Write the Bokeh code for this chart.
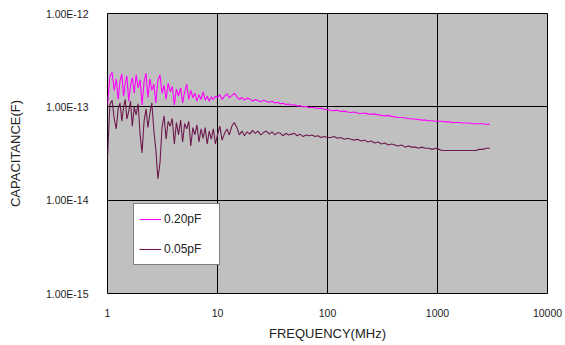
from bokeh.plotting import figure
from bokeh.models import FixedTicker, Legend, LegendItem
from bokeh.embed import file_html
from bokeh.resources import INLINE

freq_low = [1.0, 1.05, 1.1, 1.15, 1.2, 1.25, 1.3, 1.35, 1.4, 1.45, 1.5, 1.56, 1.62, 1.68,
            1.75, 1.82, 1.9, 1.98, 2.06, 2.15, 2.24, 2.33, 2.43, 2.53, 2.64, 2.75, 2.87, 3.0,
            3.13, 3.27, 3.41, 3.56, 3.72, 3.88, 4.05, 4.23, 4.42, 4.62, 4.82, 5.03, 5.25, 5.48,
            5.72, 5.97, 6.23, 6.5, 6.79, 7.09, 7.4, 7.72, 8.06, 8.41, 8.78, 9.17, 9.57, 10.0]
freq_mid = [10.5, 11, 11.6, 12.2, 12.8, 13.5, 14.2, 15, 15.8, 16.7, 17.6, 18.6, 19.7, 20.8,
            22, 23.3, 24.7, 26.2, 27.8, 29.5, 31.3, 33.2, 35.2, 37.3, 39.5, 41.8, 44.3, 47,
            50, 53, 56, 60, 64, 68, 72, 77, 82, 87, 93, 100]
freq_high = [107, 115, 123, 132, 142, 152, 163, 175, 188, 202, 217, 233, 250, 268, 288, 309,
             332, 356, 382, 410, 440, 472, 507, 544, 584, 627, 673, 722, 775, 832, 893, 958,
             1028, 1103, 1184, 1271, 1364, 1464, 1571, 1686, 1810, 1942, 2084, 2237, 2400,
             2576, 2765, 3000]

# capacitance in pF
cap020_low = [0.105, 0.21, 0.235, 0.15, 0.20, 0.12, 0.19, 0.225, 0.13, 0.18, 0.215, 0.115, 0.17,
              0.205, 0.14, 0.22, 0.16, 0.195, 0.105, 0.185, 0.23, 0.125, 0.20, 0.15, 0.175, 0.11,
              0.19, 0.22, 0.14, 0.17, 0.12, 0.18, 0.145, 0.165, 0.105, 0.155, 0.13, 0.16, 0.11,
              0.145, 0.175, 0.12, 0.15, 0.125, 0.14, 0.115, 0.135, 0.12, 0.145, 0.118, 0.13,
              0.115, 0.128, 0.12, 0.13, 0.125]
cap020_mid = [0.135, 0.12, 0.13, 0.138, 0.125, 0.132, 0.14, 0.128, 0.12, 0.126, 0.118, 0.124,
              0.121, 0.115, 0.12, 0.117, 0.113, 0.118, 0.114, 0.112, 0.115, 0.11, 0.112, 0.108,
              0.109, 0.106, 0.107, 0.104, 0.105, 0.102, 0.103, 0.1, 0.101, 0.098, 0.099, 0.097,
              0.096, 0.097, 0.094, 0.093]
cap020_high = [0.092, 0.091, 0.092, 0.089, 0.09, 0.088, 0.087, 0.088, 0.086, 0.085, 0.086, 0.084,
               0.083, 0.084, 0.082, 0.081, 0.08, 0.081, 0.079, 0.078, 0.077, 0.077, 0.076, 0.075,
               0.074, 0.074, 0.073, 0.072, 0.072, 0.071, 0.071, 0.07, 0.07, 0.07, 0.069, 0.069,
               0.068, 0.068, 0.068, 0.067, 0.067, 0.067, 0.066, 0.066, 0.066, 0.066, 0.065, 0.065]

cap005_low = [0.028, 0.105, 0.118, 0.075, 0.058, 0.095, 0.11, 0.07, 0.1, 0.12, 0.074, 0.09, 0.115,
              0.062, 0.1, 0.082, 0.108, 0.05, 0.032, 0.07, 0.095, 0.06, 0.085, 0.11, 0.055, 0.035,
              0.017, 0.025, 0.06, 0.08, 0.045, 0.07, 0.062, 0.075, 0.04, 0.068, 0.05, 0.072, 0.042,
              0.066, 0.058, 0.07, 0.038, 0.06, 0.05, 0.064, 0.042, 0.058, 0.046, 0.06, 0.04, 0.055,
              0.045, 0.058, 0.04, 0.05]
cap005_mid = [0.062, 0.044, 0.052, 0.058, 0.05, 0.062, 0.068, 0.06, 0.05, 0.055, 0.049, 0.054,
              0.051, 0.056, 0.052, 0.055, 0.05, 0.053, 0.055, 0.051, 0.054, 0.05, 0.053, 0.052,
              0.049, 0.052, 0.05, 0.051, 0.052, 0.049, 0.051, 0.048, 0.05, 0.049, 0.05, 0.048,
              0.049, 0.047, 0.048, 0.047]
cap005_high = [0.047, 0.048, 0.046, 0.047, 0.045, 0.046, 0.045, 0.044, 0.045, 0.043, 0.044, 0.042,
               0.043, 0.041, 0.042, 0.04, 0.041, 0.039, 0.04, 0.039, 0.038, 0.039, 0.037, 0.038,
               0.037, 0.037, 0.036, 0.037, 0.036, 0.036, 0.035, 0.036, 0.035, 0.034, 0.034, 0.034,
               0.034, 0.034, 0.034, 0.034, 0.034, 0.034, 0.034, 0.034, 0.035, 0.035, 0.036, 0.036]

x_ticks = [1, 10, 100, 1000, 10000]
y_ticks = [1e-15, 1e-14, 1e-13, 1e-12]
y_tick_labels = ["1.00E-15", "1.00E-14", "1.00E-13", "1.00E-12"]
series_names = ["0.20pF", "0.05pF"]
series_colors = ["#FF00FF", "#6E1A4E"]
x_title = "FREQUENCY(MHz)"
y_title = "CAPACITANCE(F)"

freq = freq_low + freq_mid + freq_high
cap020 = [v * 1e-12 for v in cap020_low + cap020_mid + cap020_high]
cap005 = [v * 1e-12 for v in cap005_low + cap005_mid + cap005_high]

FONT = "Liberation Sans"

p = figure(width=565, height=345, x_axis_type="log", y_axis_type="log",
           x_range=(1, 10000), y_range=(1e-15, 1e-12),
           output_backend="svg", toolbar_location=None,
           min_border_left=107, min_border_right=18, min_border_top=13, min_border_bottom=52)

p.background_fill_color = "#C0C0C0"
p.border_fill_color = "white"
p.outline_line_color = "black"
p.outline_line_width = 1

r1 = p.line(freq, cap020, line_color=series_colors[0], line_width=1.1)
r2 = p.line(freq, cap005, line_color=series_colors[1], line_width=1.1)

p.xaxis.ticker = FixedTicker(ticks=x_ticks)
p.yaxis.ticker = FixedTicker(ticks=y_ticks)
p.xaxis.major_label_overrides = {t: str(t) for t in x_ticks}
p.yaxis.major_label_overrides = {t: l for t, l in zip(y_ticks, y_tick_labels)}

for ax in (p.xaxis, p.yaxis):
    ax.axis_line_color = None
    ax.major_tick_line_color = None
    ax.minor_tick_line_color = None
    ax.major_label_text_font = FONT
    ax.major_label_text_font_size = "10.5px"
    ax.major_label_text_color = "#222222"
    ax.axis_label_text_font = FONT
    ax.axis_label_text_font_size = "13px"
    ax.axis_label_text_font_style = "normal"
    ax.axis_label_text_color = "#222222"

p.xaxis.axis_label = x_title
p.yaxis.axis_label = y_title
p.xaxis.major_label_standoff = 9
p.xaxis.axis_label_standoff = 6
p.yaxis.major_label_standoff = 13
p.yaxis.axis_label_standoff = 20

for g in (p.xgrid, p.ygrid):
    g.grid_line_color = "black"
    g.grid_line_width = 1
    g.minor_grid_line_color = None

legend = Legend(items=[LegendItem(label=series_names[0], renderers=[r1]),
                       LegendItem(label=series_names[1], renderers=[r2])],
                location=(26, 28), orientation="vertical")
legend.background_fill_color = "white"
legend.background_fill_alpha = 1
legend.border_line_color = "black"
legend.border_line_width = 1
legend.label_text_font = FONT
legend.label_text_font_size = "12px"
legend.label_text_color = "#222222"
legend.glyph_width = 22
legend.glyph_height = 20
legend.label_height = 20
legend.label_width = 50
legend.spacing = 10
legend.padding = 5
legend.margin = 0
legend.label_standoff = 3
p.add_layout(legend, "center")

open("out.html", "w").write(file_html(p, INLINE))
